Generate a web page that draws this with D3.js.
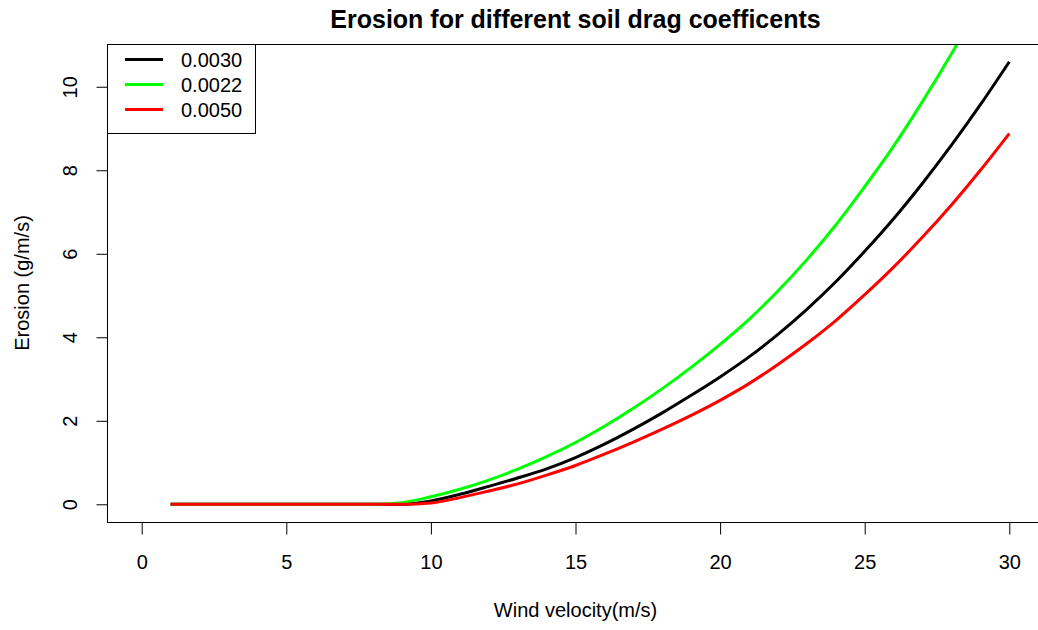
<!DOCTYPE html>
<html>
<head>
<meta charset="utf-8">
<script src="https://cdn.jsdelivr.net/npm/d3@7/dist/d3.min.js"></script>
<style>
  html, body { margin: 0; padding: 0; background: #fff; }
  svg { display: block; font-family: "Liberation Sans", Arial, sans-serif; }
</style>
</head>
<body>
<svg id="chart" width="1038" height="630"></svg>
<script>
// Wind velocity (m/s) at which erosion was evaluated
const velocity = [1, 2, 3, 4, 5, 6, 7, 8, 9, 10, 11, 12, 13, 14, 15,
                  16, 17, 18, 19, 20, 21, 22, 23, 24, 25, 26, 27, 28, 29, 30];

// Erosion (g/m/s) for each soil drag coefficient
const erosion0030 = [0, 0, 0, 0, 0, 0, 0, 0, 0, 0.08, 0.24, 0.43, 0.63, 0.85, 1.12,
                     1.44, 1.80, 2.19, 2.61, 3.05, 3.53, 4.07, 4.67, 5.33, 6.06, 6.84, 7.69, 8.60, 9.57, 10.6];
const erosion0022 = [0, 0, 0, 0, 0, 0, 0, 0, 0.04, 0.18, 0.36, 0.58, 0.84, 1.14, 1.48,
                     1.87, 2.30, 2.77, 3.28, 3.83, 4.43, 5.11, 5.86, 6.69, 7.61, 8.58, 9.65, 10.79, 12.01, 13.30];
const erosion0050 = [0, 0, 0, 0, 0, 0, 0, 0, 0, 0.03, 0.16, 0.32, 0.49, 0.70, 0.93,
                     1.20, 1.49, 1.80, 2.13, 2.49, 2.89, 3.35, 3.85, 4.40, 5.02, 5.68, 6.40, 7.17, 8.00, 8.88];

const seriesNames = ["0.0030", "0.0022", "0.0050"];
const seriesColors = ["#000000", "#00ff00", "#ff0000"];
const seriesValues = [erosion0030, erosion0022, erosion0050];

const xTicks = [0, 5, 10, 15, 20, 25, 30];
const yTicks = [0, 2, 4, 6, 8, 10];

const titleText = "Erosion for different soil drag coefficents";
const xTitle = "Wind velocity(m/s)";
const yTitle = "Erosion (g/m/s)";

// Plot region (axis limits padded 4% like base graphics)
const plotLeft = 107, plotRight = 1044, plotTop = 44, plotBottom = 522;
const xLim = [0, 30], yLim = [0, 10.6];
const xPad = (xLim[1] - xLim[0]) * 0.04, yPad = (yLim[1] - yLim[0]) * 0.04;

const x = d3.scaleLinear().domain([xLim[0] - xPad, xLim[1] + xPad]).range([plotLeft, plotRight]);
const y = d3.scaleLinear().domain([yLim[0] - yPad, yLim[1] + yPad]).range([plotBottom, plotTop]);

const svg = d3.select("#chart");

svg.append("defs").append("clipPath").attr("id", "plotClip")
  .append("rect")
  .attr("x", plotLeft).attr("y", plotTop)
  .attr("width", plotRight - plotLeft).attr("height", plotBottom - plotTop);

// Curves
const line = d3.line()
  .x((d, i) => x(velocity[i]))
  .y(d => y(d))
  .curve(d3.curveMonotoneX);

const curves = svg.append("g").attr("clip-path", "url(#plotClip)");
seriesValues.forEach((vals, k) => {
  curves.append("path")
    .datum(vals)
    .attr("fill", "none")
    .attr("stroke", seriesColors[k])
    .attr("stroke-width", 3)
    .attr("stroke-linejoin", "round")
    .attr("d", line);
});

// Plot box
svg.append("rect")
  .attr("x", plotLeft + 0.5).attr("y", plotTop + 0.5)
  .attr("width", plotRight - plotLeft).attr("height", plotBottom - plotTop)
  .attr("fill", "none").attr("stroke", "#000").attr("stroke-width", 1);

// X axis
const xAxis = svg.append("g")
  .attr("transform", `translate(0,${plotBottom + 0.5})`)
  .call(d3.axisBottom(x).tickValues(xTicks).tickSize(12).tickSizeOuter(0).tickFormat(d3.format("d")));
xAxis.select(".domain").attr("d", `M${x(0)},0H${x(30)}`).attr("stroke", "#000");
xAxis.selectAll(".tick line").attr("stroke", "#000");
xAxis.selectAll(".tick text")
  .attr("y", 46).attr("dy", null)
  .attr("fill", "#000")
  .style("font-size", "20px")
  .style("font-family", "'Liberation Sans', Arial, sans-serif");

// Y axis
const yAxis = svg.append("g")
  .attr("transform", `translate(${plotLeft + 0.5},0)`)
  .call(d3.axisLeft(y).tickValues(yTicks).tickSize(11).tickSizeOuter(0).tickFormat(d3.format("d")));
yAxis.select(".domain").attr("d", `M0,${y(0)}V${y(10)}`).attr("stroke", "#000");
yAxis.selectAll(".tick line").attr("stroke", "#000");
yAxis.selectAll(".tick text")
  .attr("x", 0).attr("y", 0).attr("dy", "0.35em")
  .attr("transform", "translate(-38,0) rotate(-90)")
  .attr("fill", "#000")
  .style("text-anchor", "middle")
  .style("font-size", "20px")
  .style("font-family", "'Liberation Sans', Arial, sans-serif");

// Titles
svg.append("text")
  .attr("x", (plotLeft + plotRight) / 2).attr("y", 28)
  .attr("text-anchor", "middle")
  .style("font-size", "25px").style("font-weight", "bold")
  .text(titleText);

svg.append("text")
  .attr("x", (plotLeft + plotRight) / 2).attr("y", 617)
  .attr("text-anchor", "middle")
  .style("font-size", "20px")
  .text(xTitle);

svg.append("text")
  .attr("transform", `translate(22,${(plotTop + plotBottom) / 2}) rotate(-90)`)
  .attr("dy", "0.35em")
  .attr("text-anchor", "middle")
  .style("font-size", "20px")
  .text(yTitle);

// Legend
const legend = svg.append("g");
legend.append("rect")
  .attr("x", plotLeft + 0.5).attr("y", plotTop + 0.5)
  .attr("width", 148).attr("height", 89)
  .attr("fill", "#fff").attr("stroke", "#000").attr("stroke-width", 1);
seriesNames.forEach((name, k) => {
  const ly = 59.5 + k * 25;
  legend.append("line")
    .attr("x1", 125).attr("x2", 163)
    .attr("y1", ly).attr("y2", ly)
    .attr("stroke", seriesColors[k]).attr("stroke-width", 3);
  legend.append("text")
    .attr("x", 181).attr("y", ly).attr("dy", "0.35em")
    .style("font-size", "20px")
    .text(name);
});
</script>
</body>
</html>
